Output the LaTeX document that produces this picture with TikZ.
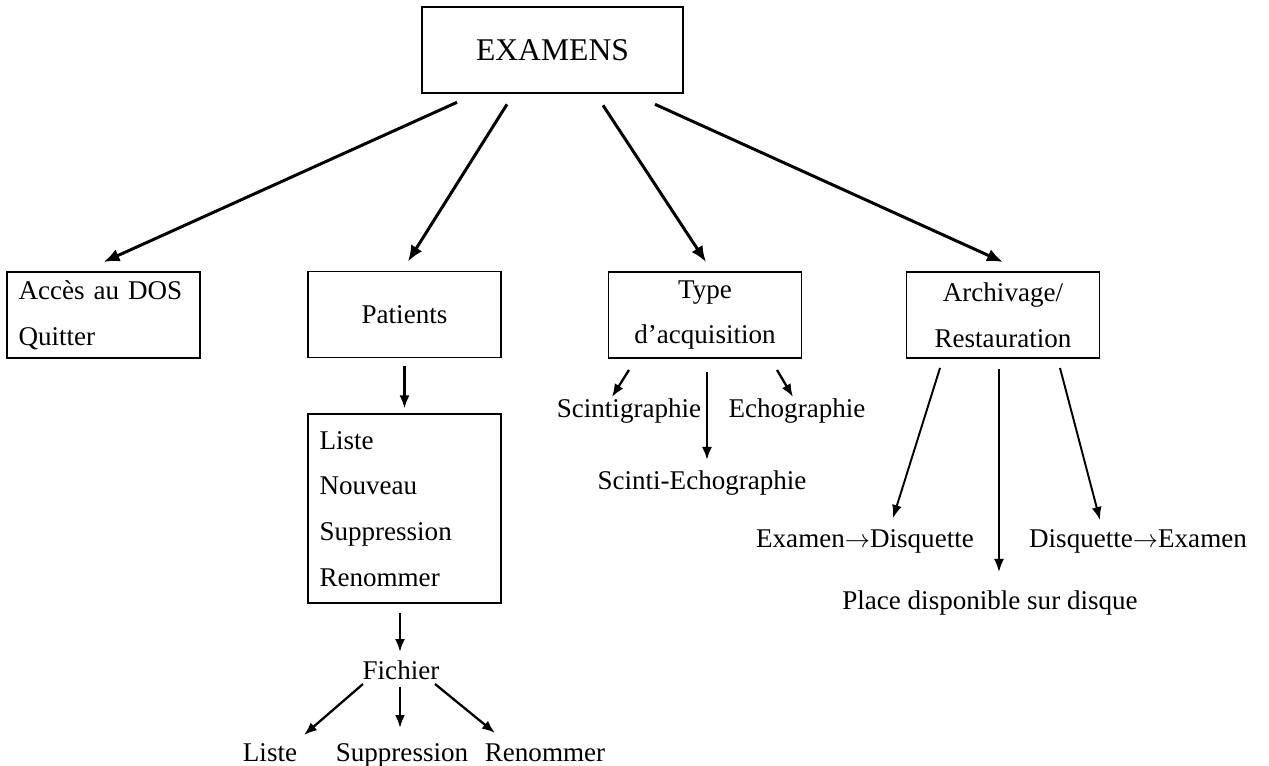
\documentclass[tikz,border=0pt]{standalone}
\usepackage{fontspec}
\setmainfont{Liberation Serif}
\usetikzlibrary{
    positioning,
    calc,
    arrows.meta
}
\tikzset{
  basic/.style = {
      draw,
      line width=1.1pt,
      font=\fontsize{15.4}{26}\selectfont,
      minimum width=3.86cm,
      minimum height=1.72cm
  },
  title/.style = {
      basic,
      line width=1.5pt,
      font=\fontsize{18}{22}\selectfont,
      minimum width=5.22cm
  },
  menu/.style = {
      basic,
      align=center
  },
  listing/.style = {
      basic,
      text width=3.4cm,
      inner xsep=0.23cm,
      align=left
  },
  item/.style = {
      font=\fontsize{15.4}{26}\selectfont,
      inner sep=0pt,
      text height=10.8pt,
      text depth=3.4pt
  },
  edge/.style = {
      line width=1.7pt,
      -{Latex[length=0.32cm, width=0.26cm]}
  },
  small edge/.style = {
      line width=1.3pt,
      -{Latex[length=0.26cm, width=0.2cm]}
  },
  thin edge/.style = {
      small edge,
      line width=1.1pt
  }
}

\begin{document}
\begin{tikzpicture}[x=0.02cm, y=-0.02cm]
        \useasboundingbox (0,0) rectangle (1269,766);
        % Boxes
        \node[title] (examens) at (552.5,50) {EXAMENS};
        \node[listing] (acces) at (103.5,315) {Accès au DOS\\Quitter};
        \node[menu] (patients) at (404.5,314.5) {Patients};
        \node[menu] (acq) at (705,315) {Type\\d’acquisition};
        \node[menu] (archiv) at (1003,315) {Archivage/\\Restauration};
        \node[listing, minimum height=3.78cm, below=1.1cm of patients] (lstbox)
            {Liste\\Nouveau\\Suppression\\Renommer};
        % Items
        \node[item] (fichier) at (401,673.5) {Fichier};
        \node[item] (fl) at (270,755.5) {Liste};
        \node[item] (fs) at (402,755.5) {Suppression};
        \node[item] (fr) at (545,755.5) {Renommer};
        \node[item] (scinti) at (629,411.5) {Scintigraphie};
        \node[item] (echo) at (797,411.5) {Echographie};
        \node[item] (scintiecho) at (702,483.5) {Scinti-Echographie};
        \node[item] (examdisk) at (865,541.5) {Examen$\rightarrow$Disquette};
        \node[item] (diskexam) at (1138,541.5) {Disquette$\rightarrow$Examen};
        \node[item] (place) at (990,603.5) {Place disponible sur disque};
        % Edges
        \draw[edge] ($(examens.south)+(-95.5,8)$) -- ($(acces.north)+(0,-9)$);
        \draw[edge] ($(examens.south)+(-45.5,10)$) -- ($(patients.north)+(3.5,-9)$);
        \draw[edge] ($(examens.south)+(50.5,11)$) -- ($(acq.north)+(1,-9)$);
        \draw[edge] ($(examens.south)+(102.5,10)$) -- ($(archiv.north)+(0,-9)$);
        \draw[small edge] ($(patients.south)+(0,8)$) -- ($(lstbox.north)+(0,-5)$);
        \draw[small edge] ($(lstbox.south)+(-4.5,9)$) -- ($(fichier)+(-1,-21.5)$);
        \draw[small edge] ($(fichier)+(-38,10.5)$) -- ($(fl)+(34,-20.5)$);
        \draw[small edge] ($(fichier)+(-1,13.5)$) -- ($(fs)+(-2,-27.5)$);
        \draw[small edge] ($(fichier)+(34,10.5)$) -- ($(fr)+(-50,-22.5)$);
        \draw[small edge] ($(acq.south)+(-76,11)$) -- ($(scinti)+(-17,-14.5)$);
        \draw[small edge] ($(acq.south)+(2,13)$) -- ($(scintiecho)+(5,-23.5)$);
        \draw[small edge] ($(acq.south)+(72,11)$) -- ($(echo)+(-4,-14.5)$);
        \draw[thin edge] ($(archiv.south)+(-63,9)$) -- ($(examdisk)+(28,-23.5)$);
        \draw[thin edge] ($(archiv.south)+(-4,10)$) -- ($(place)+(9,-31.5)$);
        \draw[thin edge] ($(archiv.south)+(57,9)$) -- ($(diskexam)+(-38,-21.5)$);
    \end{tikzpicture}
\end{document}
